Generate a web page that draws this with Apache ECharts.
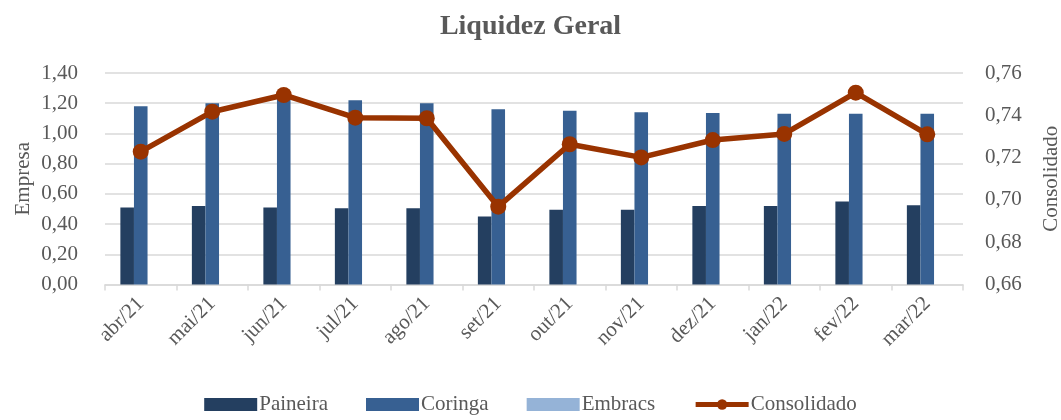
<!DOCTYPE html>
<html>
<head>
<meta charset="utf-8">
<script src="https://cdn.jsdelivr.net/npm/echarts@6/dist/echarts.min.js"></script>
<style>
  html, body { margin: 0; padding: 0; background: #fff; }
  #chart { width: 1061px; height: 420px; }
</style>
</head>
<body>
<div id="chart"></div>
<script>
// meses
const categories = ['abr/21', 'mai/21', 'jun/21', 'jul/21', 'ago/21', 'set/21',
  'out/21', 'nov/21', 'dez/21', 'jan/22', 'fev/22', 'mar/22']
const paineira = [0.51, 0.52, 0.51, 0.505, 0.505, 0.45, 0.495, 0.495, 0.52, 0.52, 0.55, 0.525]
const coringa = [1.18, 1.20, 1.25, 1.22, 1.20, 1.16, 1.15, 1.14, 1.135, 1.13, 1.13, 1.13]
const embracs = [null, null, null, null, null, null, null, null, null, null, null, null]
const consolidado = [0.7228, 0.7417, 0.7496, 0.7389, 0.7386, 0.6968, 0.7263, 0.7201, 0.7283, 0.7312, 0.7507, 0.7310]

const fontFamily = '"Liberation Serif", "DejaVu Serif", serif'
const textColor = '#595959'
const gridColor = '#d9d9d9'
const lineColor = '#993300'

const chart = echarts.init(document.getElementById('chart'))

const fmt = d => v => v.toFixed(d).replace('.', ',')

chart.setOption({
  animation: false,
  textStyle: { fontFamily: fontFamily, color: textColor },
  title: {
    text: 'Liquidez Geral',
    left: 'center',
    top: 8,
    textStyle: { fontFamily: fontFamily, fontSize: 28, fontWeight: 'bold', color: textColor }
  },
  grid: { left: 105, right: 98, top: 73, bottom: 135.5, outerBoundsMode: 'none', containLabel: false },
  legend: {
    bottom: 0,
    left: 'center',
    itemGap: 38,
    itemWidth: 53,
    itemHeight: 13,
    textStyle: { fontFamily: fontFamily, fontSize: 21, color: textColor, padding: [0, 0, 0, -3] },
    data: [
      { name: 'Paineira', icon: 'rect' },
      { name: 'Coringa', icon: 'rect' },
      { name: 'Embracs', icon: 'rect' },
      {
        name: 'Consolidado',
        itemStyle: { color: lineColor },
        lineStyle: { color: lineColor, width: 5 }
      }
    ]
  },
  xAxis: {
    type: 'category',
    data: categories,
    axisLine: { lineStyle: { color: gridColor, width: 1.5 } },
    axisTick: { show: true, length: 6, lineStyle: { color: gridColor, width: 1.5 } },
    axisLabel: { rotate: 45, fontSize: 21, color: textColor, margin: 16, fontFamily: fontFamily }
  },
  yAxis: [
    {
      type: 'value',
      min: 0,
      max: 1.4,
      interval: 0.2,
      name: 'Empresa',
      nameLocation: 'middle',
      nameGap: 71,
      nameMoveOverlap: false,
      nameTextStyle: { fontSize: 21, color: textColor, fontFamily: fontFamily },
      axisLabel: { fontSize: 21, color: textColor, margin: 27, formatter: fmt(2), fontFamily: fontFamily },
      axisLine: { show: false },
      axisTick: { show: false },
      splitLine: { lineStyle: { color: gridColor, width: 1.5 } }
    },
    {
      type: 'value',
      min: 0.66,
      max: 0.76,
      interval: 0.02,
      name: 'Consolidado',
      nameLocation: 'middle',
      nameGap: 78,
      nameMoveOverlap: false,
      nameRotate: 90,
      nameTextStyle: { fontSize: 21, color: textColor, fontFamily: fontFamily },
      axisLabel: { fontSize: 21, color: textColor, margin: 22, formatter: fmt(2), fontFamily: fontFamily },
      axisLine: { show: false },
      axisTick: { show: false },
      splitLine: { show: false }
    }
  ],
  series: [
    {
      name: 'Paineira',
      type: 'bar',
      data: paineira,
      barGap: '0%',
      barCategoryGap: '43%',
      itemStyle: { color: '#243f60' }
    },
    {
      name: 'Coringa',
      type: 'bar',
      data: coringa,
      itemStyle: { color: '#376092' }
    },
    {
      name: 'Embracs',
      type: 'bar',
      data: embracs,
      itemStyle: { color: '#95b3d7' }
    },
    {
      name: 'Consolidado',
      type: 'line',
      yAxisIndex: 1,
      data: consolidado,
      symbol: 'circle',
      symbolSize: 16,
      z: 5,
      lineStyle: { color: lineColor, width: 5.5 },
      itemStyle: { color: lineColor }
    }
  ]
})
</script>
</body>
</html>
